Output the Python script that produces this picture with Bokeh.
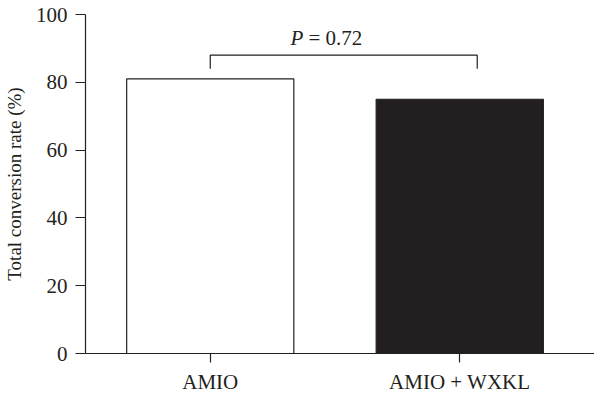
from bokeh.plotting import figure
from bokeh.models import FixedTicker, Range1d, ColumnDataSource
from bokeh.core.properties import value
from bokeh.embed import file_html
from bokeh.resources import INLINE

categories = ["AMIO", "AMIO + WXKL"]
rates = [81, 75]
bar_fill = ["white", "#231f20"]
y_ticks = [0, 20, 40, 60, 80, 100]
bracket_x = [0.5, 0.5, 1.57, 1.57]
bracket_y = [84, 88, 88, 84]
p_label_x = 0.97
p_label_y = 93.2
p_value_text = "= 0.72"

FONT = "Liberation Serif"
INK = "#231f20"

positions = [i + 0.5 for i in range(len(categories))]

p = figure(width=594, height=396, output_backend="svg", toolbar_location=None,
           x_range=Range1d(0, 2.04), y_range=Range1d(0, 100),
           min_border_left=85, min_border_right=0, min_border_top=14, min_border_bottom=36)
p.outline_line_color = None
p.xgrid.visible = False
p.ygrid.visible = False
p.background_fill_color = "white"

src = ColumnDataSource(dict(x=positions, top=rates, fill=bar_fill))
p.vbar(x="x", top="top", bottom=0, width=0.67, source=src,
       fill_color="fill", line_color=INK, line_width=1.2)

p.line(bracket_x, bracket_y, line_color=INK, line_width=1.2)

p.text(x=[p_label_x], y=[p_label_y], text=["P"], x_offset=-37,
       text_font=value(FONT), text_font_style="italic", text_font_size="21px",
       text_align="left", text_baseline="middle", text_color=INK)
p.text(x=[p_label_x], y=[p_label_y], text=[p_value_text], x_offset=-19,
       text_font=value(FONT), text_font_size="21px",
       text_align="left", text_baseline="middle", text_color=INK)

# x axis
p.xaxis.ticker = FixedTicker(ticks=positions)
p.xaxis.major_label_overrides = {pos: c for pos, c in zip(positions, categories)}
p.xaxis.minor_tick_line_color = None
p.xaxis.major_tick_in = 0
p.xaxis.major_tick_out = 9
p.xaxis.major_label_standoff = 7
p.xaxis.major_label_text_font = FONT
p.xaxis.major_label_text_font_size = "21px"
p.xaxis.major_label_text_color = INK
p.xaxis.axis_line_color = INK
p.xaxis.axis_line_width = 1.2
p.xaxis.major_tick_line_color = INK
p.xaxis.major_tick_line_width = 1.2

# y axis
p.yaxis.ticker = FixedTicker(ticks=y_ticks)
p.yaxis.minor_tick_line_color = None
p.yaxis.major_tick_in = 0
p.yaxis.major_tick_out = 10
p.yaxis.major_label_standoff = 8
p.yaxis.major_label_text_font = FONT
p.yaxis.major_label_text_font_size = "21px"
p.yaxis.major_label_text_color = INK
p.yaxis.axis_label = "Total conversion rate (%)"
p.yaxis.axis_label_text_font = FONT
p.yaxis.axis_label_text_font_style = "normal"
p.yaxis.axis_label_text_font_size = "19px"
p.yaxis.axis_label_text_color = INK
p.yaxis.axis_label_standoff = 8
p.yaxis.axis_line_color = INK
p.yaxis.axis_line_width = 1.2
p.yaxis.major_tick_line_color = INK
p.yaxis.major_tick_line_width = 1.2

open("out.html", "w").write(file_html(p, INLINE))
